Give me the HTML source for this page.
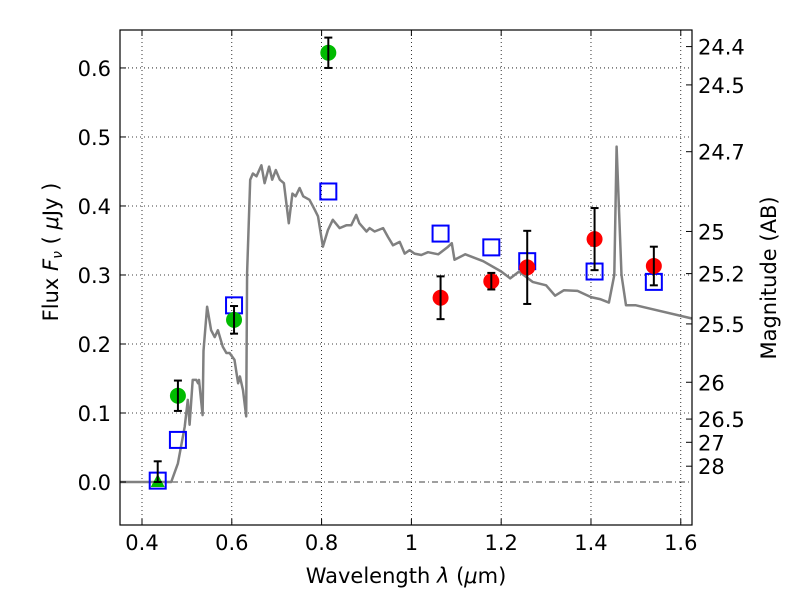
<!DOCTYPE html>
<html><head><meta charset="utf-8"><style>
body{margin:0;background:#fff;}
svg text{font-family:"DejaVu Sans","Liberation Sans",sans-serif;fill:#000;}
</style></head><body>
<svg id="chart" width="800" height="600" xmlns="http://www.w3.org/2000/svg">
<rect width="800" height="600" fill="#fff"/>
<g id="grid"></g>
<g id="spec"></g>
<g id="marks"></g>
<g id="axes"></g>
</svg>
<script>
const xTicks=[0.4,0.6,0.8,1.0,1.2,1.4,1.6];
const xTickLabels=["0.4","0.6","0.8","1","1.2","1.4","1.6"];
const yTicks=[0,0.1,0.2,0.3,0.4,0.5,0.6];
const yTickLabels=["0.0","0.1","0.2","0.3","0.4","0.5","0.6"];
const magTicks=[24.4,24.5,24.7,25,25.2,25.5,26,26.5,27,28];
const specWave=[0.35,0.465,0.48,0.495,0.502,0.506,0.513,0.521,0.525,0.527,0.535,0.537,0.545,0.554,0.562,0.569,0.58,0.588,0.595,0.606,0.614,0.618,0.625,0.632,0.634,0.641,0.647,0.655,0.666,0.673,0.683,0.69,0.698,0.707,0.716,0.727,0.735,0.742,0.751,0.759,0.773,0.785,0.792,0.803,0.814,0.825,0.84,0.855,0.866,0.877,0.884,0.9,0.907,0.918,0.937,0.948,0.959,0.974,0.985,0.996,1.007,1.022,1.037,1.06,1.08,1.09,1.096,1.12,1.16,1.2,1.22,1.24,1.27,1.3,1.32,1.34,1.37,1.4,1.42,1.44,1.452,1.457,1.468,1.478,1.5,1.625];
const specFlux=[0,0,0.027,0.08,0.119,0.083,0.148,0.148,0.143,0.148,0.097,0.19,0.254,0.22,0.21,0.22,0.196,0.187,0.187,0.177,0.143,0.153,0.133,0.095,0.303,0.438,0.447,0.443,0.459,0.433,0.457,0.438,0.452,0.438,0.433,0.375,0.418,0.414,0.426,0.414,0.409,0.394,0.385,0.341,0.365,0.38,0.368,0.372,0.372,0.387,0.375,0.363,0.368,0.363,0.368,0.355,0.343,0.348,0.331,0.336,0.331,0.329,0.333,0.33,0.34,0.346,0.322,0.33,0.32,0.305,0.295,0.305,0.29,0.285,0.27,0.278,0.277,0.268,0.265,0.26,0.3,0.486,0.3,0.256,0.256,0.237];
const greenWave=[0.48,0.605,0.815];
const greenFlux=[0.125,0.235,0.622];
const greenErr=[0.022,0.02,0.022];
const triWave=[0.435];
const triFlux=[0.0];
const triErr=[0.03];
const redWave=[1.065,1.178,1.258,1.408,1.54];
const redFlux=[0.267,0.291,0.311,0.352,0.313];
const redErr=[0.031,0.012,0.053,0.045,0.028];
const sqWave=[0.435,0.48,0.605,0.815,1.065,1.178,1.258,1.408,1.54];
const sqFlux=[0.002,0.061,0.256,0.421,0.36,0.34,0.32,0.305,0.29];

const L=120,R=692,T=30,B=525;
const X0=0.351,X1=1.625,Y0=-0.0623,Y1=0.655;
const sx=v=>L+(v-X0)/(X1-X0)*(R-L);
const sy=v=>B-(v-Y0)/(Y1-Y0)*(B-T);
const NS="http://www.w3.org/2000/svg";
function mk(tag,attrs,parent){const e=document.createElementNS(NS,tag);for(const k in attrs)e.setAttribute(k,attrs[k]);parent.appendChild(e);return e;}
const grid=document.getElementById('grid'),spec=document.getElementById('spec'),marks=document.getElementById('marks'),axes=document.getElementById('axes');

xTicks.forEach(v=>{const l=mk('line',{x1:sx(v),x2:sx(v),y1:T,y2:B,stroke:'#000','stroke-width':0.8,'stroke-dasharray':'1,3'},grid);

});
yTicks.forEach(v=>{const l=mk('line',{x1:L,x2:R,y1:sy(v),y2:sy(v),stroke:'#000','stroke-width':0.8,'stroke-dasharray':v===0?'6,3,1,3':'1,3'},grid);

});

const pts=specWave.map((w,i)=>sx(w).toFixed(1)+','+sy(specFlux[i]).toFixed(1)).join(' ');
const pl=mk('polyline',{points:pts,fill:'none',stroke:'#808080','stroke-width':2.5,'stroke-linejoin':'round'},spec);



function errbar(w,f,e){const x=sx(w),y1=sy(f-e),y2=sy(f+e);
const g=mk('g',{stroke:'#000','stroke-width':2},marks);


mk('line',{x1:x,x2:x,y1:y1,y2:y2},g);mk('line',{x1:x-4,x2:x+4,y1:y1,y2:y1},g);mk('line',{x1:x-4,x2:x+4,y1:y2,y2:y2},g);}

sqWave.forEach((w,i)=>{const s=mk('rect',{x:sx(w)-8,y:sy(sqFlux[i])-8,width:16,height:16,fill:'none',stroke:'#0000ff','stroke-width':2},marks);

});
greenWave.forEach((w,i)=>{const c=mk('circle',{cx:sx(w),cy:sy(greenFlux[i]),r:8,fill:'#00bb00'},marks);


errbar(w,greenFlux[i],greenErr[i]);});
triWave.forEach((w,i)=>{const x=sx(w),y=sy(triFlux[i]);const t=mk('polygon',{points:`${x},${y-8} ${x-7},${y+5} ${x+7},${y+5}`,fill:'#00bb00'},marks);


errbar(w,triFlux[i]+triErr[i]/2,triErr[i]/2);});
redWave.forEach((w,i)=>{const c=mk('circle',{cx:sx(w),cy:sy(redFlux[i]),r:8,fill:'#ff0000'},marks);


errbar(w,redFlux[i],redErr[i]);});

const frame=mk('rect',{x:L,y:T,width:R-L,height:B-T,fill:'none',stroke:'#000','stroke-width':1.2},axes);


xTicks.forEach((v,i)=>{const x=sx(v);
mk('line',{x1:x,x2:x,y1:B,y2:B-6,stroke:'#000'},axes);mk('line',{x1:x,x2:x,y1:T,y2:T+6,stroke:'#000'},axes);
const t=mk('text',{x:x,y:B+25,'text-anchor':'middle','font-size':21},axes);t.textContent=xTickLabels[i];

});
yTicks.forEach((v,i)=>{const y=sy(v);
mk('line',{x1:L,x2:L+6,y1:y,y2:y,stroke:'#000'},axes);
const t=mk('text',{x:L-9,y:y+8,'text-anchor':'end','font-size':21},axes);t.textContent=yTickLabels[i];

});
magTicks.forEach(m=>{const y=sy(Math.pow(10,(23.9-m)/2.5));
mk('line',{x1:R,x2:R-6,y1:y,y2:y,stroke:'#000'},axes);
const t=mk('text',{x:R+6,y:y+8,'font-size':21},axes);t.textContent=String(m);

});
</script>
<svg width="800" height="600" style="position:absolute;left:0;top:0" xmlns="http://www.w3.org/2000/svg">
<text x="406" y="583" text-anchor="middle" font-size="21" font-family="DejaVu Sans, Liberation Sans, sans-serif">Wavelength  <tspan font-style="italic">λ</tspan> (<tspan font-style="italic">μ</tspan>m)</text>
<text transform="translate(58,252) rotate(-90)" text-anchor="middle" font-size="21" font-family="DejaVu Sans, Liberation Sans, sans-serif">Flux  <tspan font-style="italic">F</tspan><tspan font-style="italic" font-size="14" dy="4">ν</tspan><tspan dy="-4">  ( </tspan><tspan font-style="italic">μ</tspan>Jy )</text>
<text transform="translate(776,278) rotate(-90)" text-anchor="middle" font-size="21" font-family="DejaVu Sans, Liberation Sans, sans-serif">Magnitude (AB)</text>
</svg>
</body></html>
